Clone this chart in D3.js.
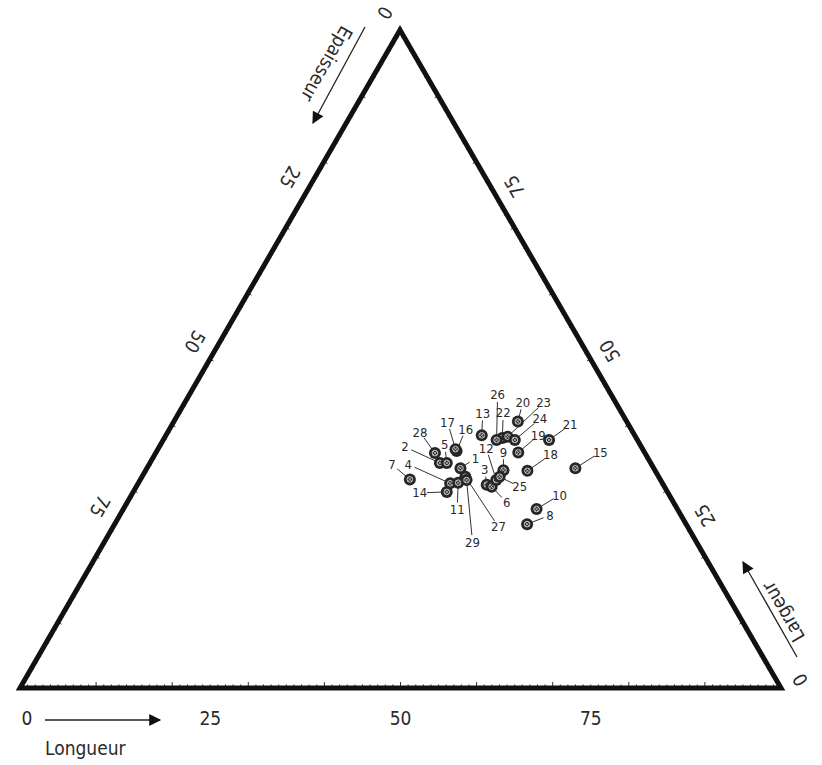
<!DOCTYPE html>
<html><head><meta charset="utf-8">
<script src="https://cdn.jsdelivr.net/npm/d3@7"></script>
<style>
body{margin:0;background:#fff;}
svg{display:block;}
text{font-family:"DejaVu Sans Condensed","Liberation Sans Narrow","Liberation Sans",sans-serif;fill:#2a2a2a;}
</style></head>
<body>
<svg id="c" width="822" height="765"></svg>
<script>
// ---- data ----
const sampleIds   = [1,2,3,4,5,6,7,8,9,10,11,12,13,14,15,16,17,18,19,20,21,22,23,24,25,26,27,28,29];
const longueur    = [41.2,38.1,45.9,41.0,39.0,46.7,35.4,54.2,47.0,54.3,42.0,46.8,41.5,41.2,56.3,39.4,39.1,50.2,47.6,45.2,50.7,44.4,45.0,46.2,47.0,43.8,42.5,36.7,42.9];
const epaisseur   = [25.4,27.7,23.2,27.9,26.8,22.7,32.9,20.9,19.9,18.5,26.8,21.6,20.1,29.0,10.3,24.6,24.6,16.8,16.6,14.3,11.6,17.6,16.8,16.1,20.9,18.5,25.4,27.6,25.5];
const largeur     = [33.4,34.2,30.9,31.1,34.2,30.6,31.7,24.9,33.1,27.2,31.2,31.6,38.4,29.8,33.4,36.0,36.3,33.0,35.8,40.5,37.7,38.0,38.2,37.7,32.1,37.7,32.1,35.7,31.6];
const tickLabels  = [0,25,50,75];
const axisTitles  = ["Longueur","Epaisseur","Largeur"];

// ---- layout (label offsets in px, not data) ----
const labelOffsets = [[15,-10],[-35,-16],[-2,-15],[-42,-19],[-2,-18],[15,16],[-18,-15],[23,-9],[0,-18],[23,-14],
  [-1,27],[-10,-32],[1,-22],[-27,1],[25,-16],[9,-22],[-8,-27],[23,-16],[20,-17],[5,-19],
  [21,-15],[1,-25],[36,-34],[25,-21],[20,10],[1,-45],[33,50],[-15,-21],[6,62]];

const svg = d3.select("#c");
const A = [400,30], BL = [20,688], BR = [781,688];
const xL = d3.scaleLinear().domain([0,100]).range([0, BR[0]-BL[0]]);
const xW = d3.scaleLinear().domain([0,100]).range([0, A[0]-BL[0]]);
const yW = d3.scaleLinear().domain([0,100]).range([BL[1], A[1]]);
function proj(L, W){ return [BL[0] + xL(L) + xW(W), yW(W)]; }

// ticks on edges (inward)
const g = svg.append("g");
function edgeTicks(pFn, inward, majLen, minLen){
  for(let v=0; v<=100; v+=1){
    if(v===0||v===100) continue;
    const p = pFn(v);
    const len = v%10===0 ? majLen : minLen;
    g.append("line").attr("x1",p[0]).attr("y1",p[1])
      .attr("x2",p[0]+inward[0]*len).attr("y2",p[1]+inward[1]*len)
      .attr("stroke","#333").attr("stroke-width",1);
  }
}
edgeTicks(v=>proj(v,0), [0,-1], 6, 3.5);
edgeTicks(v=>proj(0,100-v), [0.866,0.5], 4, 2.5);
edgeTicks(v=>proj(100-v,v), [-0.866,0.5], 4, 2.5);

// triangle
svg.append("path")
  .attr("d", d3.line()([A,BR,BL]) + "Z")
  .attr("fill","none").attr("stroke","#111").attr("stroke-width",5).attr("stroke-linejoin","miter");

// tick labels
const fs = 19;
tickLabels.forEach(v=>{
  const pb = proj(v,0);
  svg.append("text").attr("x",pb[0] + (v===0?7:0)).attr("y",718).attr("text-anchor","middle")
    .attr("dominant-baseline","central").attr("font-size",fs).text(v);
  const pl = proj(0,100-v);
  svg.append("text").attr("transform",`translate(${pl[0]-15},${pl[1]-17}) rotate(120)`)
    .attr("text-anchor","middle").attr("dominant-baseline","central").attr("font-size",fs).text(v);
  const pr = proj(100-v,v);
  svg.append("text").attr("transform",`translate(${pr[0]+19},${pr[1]-8}) rotate(-120)`)
    .attr("text-anchor","middle").attr("dominant-baseline","central").attr("font-size",fs).text(v);
});

// arrows + titles
const defs = svg.append("defs");
defs.append("marker").attr("id","ah").attr("viewBox","0 0 10 10").attr("refX",9).attr("refY",5)
  .attr("markerWidth",14).attr("markerHeight",12).attr("markerUnits","userSpaceOnUse").attr("orient","auto")
  .append("path").attr("d","M0,0L10,5L0,10Z").attr("fill","#111");
function arrow(x1,y1,x2,y2){
  svg.append("line").attr("x1",x1).attr("y1",y1).attr("x2",x2).attr("y2",y2)
    .attr("stroke","#222").attr("stroke-width",1.3).attr("marker-end","url(#ah)");
}
arrow(45,720,160,720);
svg.append("text").attr("x",45).attr("y",748).attr("dominant-baseline","central").attr("font-size",fs).text(axisTitles[0]);
arrow(365,27,313,123);
svg.append("text").attr("transform","translate(327,64) rotate(120)").attr("text-anchor","middle")
  .attr("dominant-baseline","central").attr("font-size",fs).text(axisTitles[1]);
arrow(797,657,743,562);
svg.append("text").attr("transform","translate(783,612) rotate(-120)").attr("text-anchor","middle")
  .attr("dominant-baseline","central").attr("font-size",fs).text(axisTitles[2]);

// points
const pts = sampleIds.map((id,i)=>{
  const s = longueur[i]+epaisseur[i]+largeur[i];
  const p = proj(longueur[i]*100/s, largeur[i]*100/s);
  return {id, x:p[0], y:p[1], off:labelOffsets[i]};
});
// leaders
pts.forEach(d=>{
  const dx=d.off[0], dy=d.off[1], len=Math.hypot(dx,dy);
  if(len<14) return;
  const ux=dx/len, uy=dy/len;
  svg.append("line").attr("x1",d.x+ux*5).attr("y1",d.y+uy*5)
    .attr("x2",d.x+dx-ux*7).attr("y2",d.y+dy-uy*7)
    .attr("stroke","#333").attr("stroke-width",1);
});
const pg = svg.append("g").selectAll("g").data(pts).join("g").attr("transform",d=>`translate(${d.x},${d.y})`);
pg.append("circle").attr("r",6).attr("fill","#262626");
pg.append("circle").attr("r",2.8).attr("fill","none").attr("stroke","#cfcfcf").attr("stroke-width",1);
pg.append("path").attr("d","M-2,-2L2,2M-2,2L2,-2").attr("stroke","#cfcfcf").attr("stroke-width",0.8);
svg.append("g").selectAll("text").data(pts).join("text")
  .attr("x",d=>d.x+d.off[0]).attr("y",d=>d.y+d.off[1])
  .attr("text-anchor","middle").attr("dominant-baseline","central").attr("font-size",13).text(d=>d.id);
</script>
</body></html>
